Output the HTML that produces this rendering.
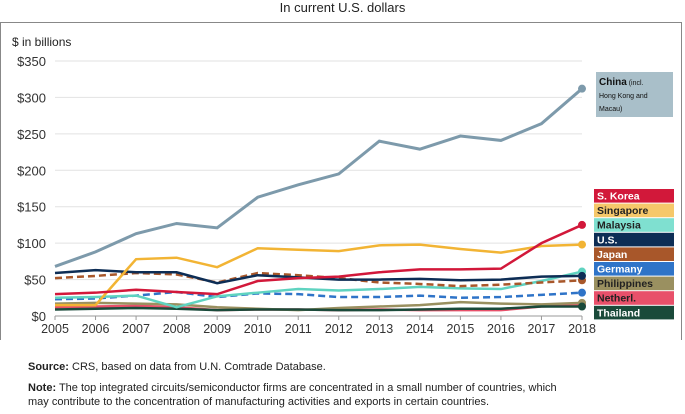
<!DOCTYPE html>
<html><head><meta charset="utf-8"><style>
body{margin:0;background:#fff;font-family:"Liberation Sans",sans-serif;}
#wrap{position:relative;width:685px;height:414px;overflow:hidden}
.t{position:absolute;white-space:nowrap}
</style></head><body>
<div id="wrap">
<div class="t" style="left:0;width:685px;text-align:center;top:0;font-size:13px;color:#222">In current U.S. dollars</div>
<div style="position:absolute;left:0;top:22px;width:682px;height:318px;border:1px solid #888;border-bottom:none;box-sizing:border-box"></div>
<svg id="chart" width="685" height="345" style="position:absolute;left:0;top:0"></svg>
<div class="t" style="left:28px;top:361px;font-size:11px;color:#222"><b>Source:</b> CRS, based on data from U.N. Comtrade Database.</div>
<div class="t" style="left:28px;top:381px;font-size:11px;color:#222;line-height:14px"><b>Note:</b> The top integrated circuits/semiconductor firms are concentrated in a small number of countries, which<br>may contribute to the concentration of manufacturing activities and exports in certain countries.</div>
</div>
<script>
const years=[2005,2006,2007,2008,2009,2010,2011,2012,2013,2014,2015,2016,2017,2018];
const yTicks=[0,50,100,150,200,250,300,350];
const china=[68,88,113,127,121,163,180,195,240,229,247,241,264,312];
const korea=[30,32,36,33,30,48,52,54,60,64,64,65,100,125];
const singapore=[15,15,78,80,67,93,91,89,97,98,92,87,96,98];
const malaysia=[25,26,28,12,27,32,37,35,37,40,38,37,48,61];
const us=[59,63,60,60,45,56,53,50,50,51,49,50,54,55];
const japan=[52,55,59,57,46,59,56,52,46,44,41,43,46,49];
const germany=[23,24,28,33,26,31,30,26,26,28,25,26,29,32];
const philippines=[17,18,17,16,12,10,8,11,13,15,19,17,16,18];
const netherl=[12,13,14,12,8,9,9,8,9,8,8,8,13,15];
const thailand=[9,10,11,10,8,9,9,8,8,9,10,10,13,13];
const svg=document.getElementById('chart');const NS='http://www.w3.org/2000/svg';
const x=i=>55+i*(582-55)/(years.length-1);
const y=v=>316-v*(316-61)/350;
function el(t,a){const e=document.createElementNS(NS,t);for(const k in a)e.setAttribute(k,a[k]);svg.appendChild(e);return e;}
let e=el('text',{x:12,y:46,'font-size':12,fill:'#222'});e.textContent='$ in billions';


yTicks.forEach(v=>{
 const g=el('line',{x1:55,x2:582,y1:y(v),y2:y(v),stroke:'#e2e2e2','stroke-width':1});
 
 
 const t=el('text',{x:46,y:y(v)+5,'text-anchor':'end','font-size':13,fill:'#333'});t.textContent='$'+v;
 
 
});
const ax=el('line',{x1:55,x2:582,y1:316,y2:316,stroke:'#999'});


years.forEach((yr,i)=>{
 const tk=el('line',{x1:x(i),x2:x(i),y1:316,y2:320,stroke:'#999'});
 
 
 const t=el('text',{x:x(i),y:333,'text-anchor':'middle','font-size':12.5,fill:'#333'});t.textContent=yr;
 
 
});
const series=[
 ['netherl',netherl,'#e8506a',false],['philippines',philippines,'#9a9060',false],['thailand',thailand,'#1a4a3a',false],
 ['germany',germany,'#2f74c8',true],['malaysia',malaysia,'#5fd3c0',false],['japan',japan,'#a8572a',true],
 ['us',us,'#0d2d55',false],['singapore',singapore,'#f2b434',false],['korea',korea,'#d2183a',false],['china',china,'#7d9aab',false]];
series.forEach(([n,d,c,dash])=>{
 const p=el('polyline',{points:d.map((v,i)=>x(i)+','+y(v)).join(' '),fill:'none',stroke:c,'stroke-width':n==='china'?3:2.5,'stroke-dasharray':dash?'7,4':'none'});
 
 
 const m=el('circle',{cx:x(d.length-1),cy:y(d[d.length-1]),r:4,fill:c});
 
 
});
const cb=el('rect',{x:596,y:72,width:77,height:45,fill:'#a9bfc9'});


const ct=el('text',{x:599,y:85,'font-size':10,fill:'#111'});ct.innerHTML='<tspan font-weight="bold">China</tspan><tspan font-size="7"> (incl.</tspan><tspan x="599" dy="13" font-size="7">Hong Kong and</tspan><tspan x="599" dy="13" font-size="7">Macau)</tspan>';


const leg=[['S. Korea','#d2183a','#fff'],['Singapore','#f6c86a','#222'],['Malaysia','#7fe0d0','#222'],['U.S.','#0d2d55','#fff'],['Japan','#a8572a','#fff'],['Germany','#2f74c8','#fff'],['Philippines','#9a9060','#222'],['Netherl.','#e8506a','#222'],['Thailand','#1a4a3a','#fff']];
leg.forEach(([l,c,tc],i)=>{
 const yy=189+i*14.6;
 const r=el('rect',{x:594,y:yy,width:80,height:13.6,fill:c});
 
 
 const t=el('text',{x:597,y:yy+10.5,'font-size':10.5,'font-weight':'bold',fill:tc});t.textContent=l;
 
 
});
</script>
</body></html>
